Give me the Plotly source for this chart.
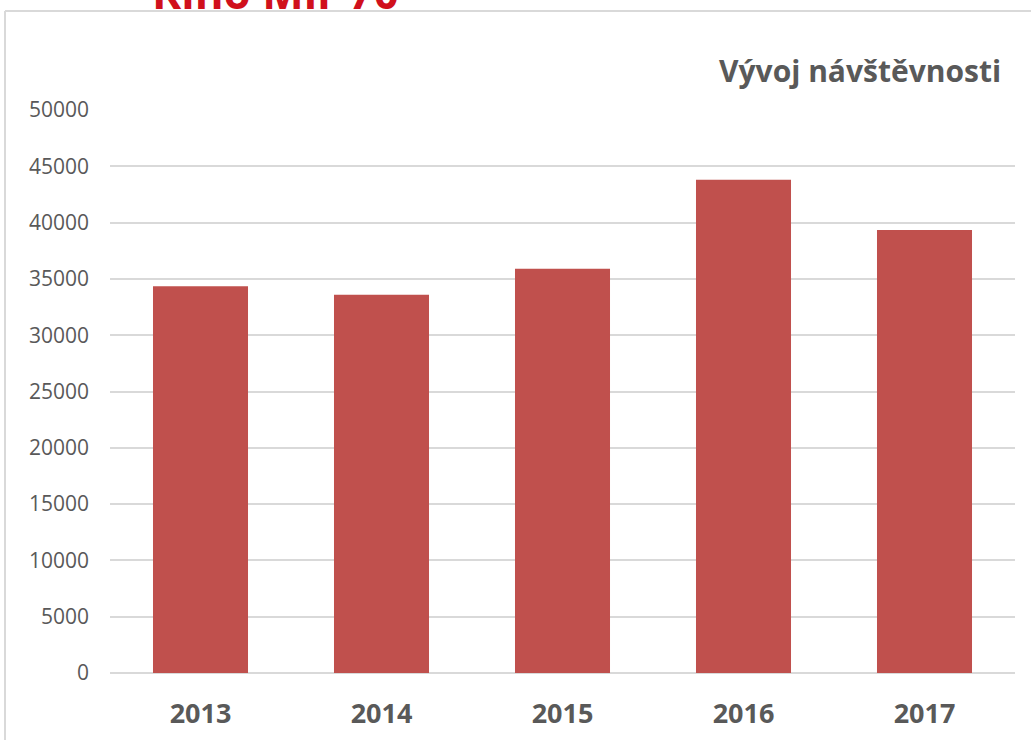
import plotly.graph_objects as go

years = ["2013", "2014", "2015", "2016", "2017"]
visitors = [34350, 33600, 35900, 43800, 39350]
y_ticks = [0, 5000, 10000, 15000, 20000, 25000, 30000, 35000, 40000, 45000, 50000]

W, H = 1031, 740
L, R, T, B = 110, 16, 110, 67
pw, ph = W - L - R, H - T - B

def px(x):
    return (x - L) / pw

def py(y):
    return (H - B - y) / ph

fig = go.Figure(go.Bar(
    x=years, y=visitors, marker_color="#C0504D", width=0.525,
    marker_line_width=0,
))

fig.update_layout(
    width=W, height=H,
    margin=dict(l=L, r=R, t=T, b=B),
    paper_bgcolor="white", plot_bgcolor="white",
    font=dict(family="Open Sans", color="#595959"),
    showlegend=False,
    xaxis=dict(tickfont=dict(size=27, color="#595959", family="Open Sans"),
               tickprefix="<b>", ticksuffix="</b>",
               showgrid=False, showline=False, ticks="", ticklabelstandoff=22,
               automargin=False),
    yaxis=dict(range=[0, 50000], tickvals=y_ticks, ticktext=[str(v) for v in y_ticks],
               tickfont=dict(size=21, color="#595959"),
               showgrid=True, gridcolor="#D9D9D9", gridwidth=2,
               zeroline=True, zerolinecolor="#D9D9D9", zerolinewidth=2,
               ticks="", ticklabelstandoff=20, automargin=False),
    shapes=[
        dict(type="line", xref="paper", yref="paper", x0=px(5), x1=px(1040), y0=py(11), y1=py(11),
             line=dict(color="#D9D9D9", width=2)),
        dict(type="line", xref="paper", yref="paper", x0=px(5), x1=px(5), y0=py(11), y1=py(750),
             line=dict(color="#D9D9D9", width=2)),
    ],
    annotations=[
        dict(text="<b>Vývoj návštěvnosti</b>", xref="paper", yref="paper",
             x=px(1003), y=py(70), xanchor="right", yanchor="middle", showarrow=False,
             font=dict(size=30, color="#595959", family="Open Sans")),
        dict(text="<b>Kino Mír 70</b>", xref="paper", yref="paper",
             x=px(150), y=py(24), xanchor="left", yanchor="bottom", showarrow=False,
             font=dict(size=44, color="#D0101C", family="Open Sans")),
    ],
)

fig.write_html("out.html", config={"displayModeBar": False},
               post_script="document.body.style.margin='0px';")
